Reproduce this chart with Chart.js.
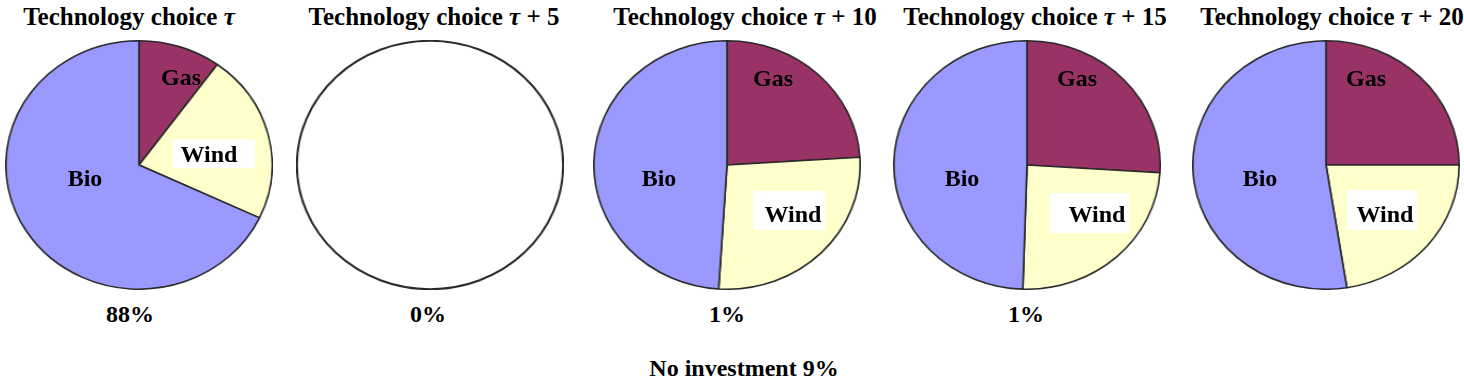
<!DOCTYPE html>
<html>
<head>
<meta charset="utf-8">
<script src="https://cdn.jsdelivr.net/npm/chart.js@4/dist/chart.umd.min.js"></script>
<style>
  html, body { margin: 0; padding: 0; background: #fff; }
  body { width: 1464px; height: 378px; position: relative; overflow: hidden;
         font-family: "Liberation Serif", "Times New Roman", serif; font-weight: bold; color: #000; }
  .pie { position: absolute; width: 250px; height: 250px; transform: scaleX(1.072); transform-origin: 50% 50%; }
  .txt { position: absolute; white-space: nowrap; transform: translateX(-50%); }
  .box { position: absolute; background: #fff; }
</style>
</head>
<body>
<script>
// ---- data ----
const technologies = ["Gas", "Wind", "Bio"];
const chartTitles = ["Technology choice τ", "Technology choice τ + 5", "Technology choice τ + 10", "Technology choice τ + 15", "Technology choice τ + 20"];
const gasShare  = [10, 0, 24, 26, 25];
const windShare = [22, 0, 27, 24.5, 22.5];
const bioShare  = [68, 0, 49, 49.5, 52.5];
const investmentLabels = ["88%", "0%", "1%", "1%", ""];
const noInvestmentLabel = "No investment 9%";
const sliceColors = ["#993366", "#FFFFCC", "#9999FF"];

// ---- layout (pixels) ----
const centersX = [139, 430, 727, 1027, 1326];
const titleCentersX = [129, 434, 745, 1035, 1332];
const pieCenterY = 165;
const gasPos  = [[181, 85], null, [773, 86], [1077, 86], [1366, 86]];
const bioPos  = [[85, 186], null, [659, 186], [962, 186], [1260, 186]];
const windPos = [[209, 162], null, [793, 222], [1097, 222], [1385, 222]];
const windBox = [[173, 139, 82, 29], null, [753, 191, 73, 39], [1050, 193, 80, 40], [1347, 190, 70, 40]];
const pctCentersX = [130, 428, 727, 1026, 0];

function addText(html, cx, baseline, size) {
  const d = document.createElement('div');
  d.className = 'txt';
  d.innerHTML = html;
  d.style.fontSize = size + 'px';
  d.style.lineHeight = size + 'px';
  d.style.left = cx + 'px';
  d.style.top = (baseline - 0.8375 * size) + 'px';
  document.body.appendChild(d);
  return d;
}

const emptyOutline = {
  id: 'emptyOutline',
  afterDatasetsDraw(chart) {
    const data = chart.data.datasets[0].data;
    const total = data.reduce((a, b) => a + b, 0);
    if (total > 0) return;
    const ctrl = chart.getDatasetMeta(0).controller;
    const ca = chart.chartArea;
    const cx = (ca.left + ca.right) / 2, cy = (ca.top + ca.bottom) / 2;
    const r = ctrl.outerRadius || (Math.min(ca.right - ca.left, ca.bottom - ca.top) / 2 - 1);
    const ctx = chart.ctx;
    ctx.save();
    ctx.beginPath();
    ctx.arc(cx, cy, r, 0, Math.PI * 2);
    ctx.lineWidth = 2;
    ctx.strokeStyle = '#2a2a2a';
    ctx.stroke();
    ctx.restore();
  }
};

for (let i = 0; i < 5; i++) {
  const wrap = document.createElement('div');
  wrap.className = 'pie';
  wrap.style.left = (centersX[i] - 125) + 'px';
  wrap.style.top = (pieCenterY - 125) + 'px';
  const cv = document.createElement('canvas');
  wrap.appendChild(cv);
  document.body.appendChild(wrap);

  new Chart(cv, {
    type: 'pie',
    data: {
      labels: technologies,
      datasets: [{
        data: [gasShare[i], windShare[i], bioShare[i]],
        backgroundColor: sliceColors,
        borderColor: '#2a2a2a',
        borderWidth: 1.6
      }]
    },
    options: {
      responsive: true,
      maintainAspectRatio: false,
      animation: false,
      layout: { padding: 0 },
      plugins: { legend: { display: false }, tooltip: { enabled: false }, title: { display: false } }
    },
    plugins: [emptyOutline]
  });

  // title
  addText(chartTitles[i].replace('τ', '<i>τ</i>'), titleCentersX[i], 25, 25);

  // slice labels
  if (gasPos[i]) addText(technologies[0], gasPos[i][0], gasPos[i][1], 24);
  if (bioPos[i]) addText(technologies[2], bioPos[i][0], bioPos[i][1], 24);
  if (windBox[i]) {
    const b = document.createElement('div');
    b.className = 'box';
    b.style.left = windBox[i][0] + 'px';
    b.style.top = windBox[i][1] + 'px';
    b.style.width = windBox[i][2] + 'px';
    b.style.height = windBox[i][3] + 'px';
    document.body.appendChild(b);
    addText(technologies[1], windPos[i][0], windPos[i][1], 24);
  }
  if (investmentLabels[i]) addText(investmentLabels[i], pctCentersX[i], 322, 24);
}
addText(noInvestmentLabel, 744, 376, 24);
</script>
</body>
</html>
